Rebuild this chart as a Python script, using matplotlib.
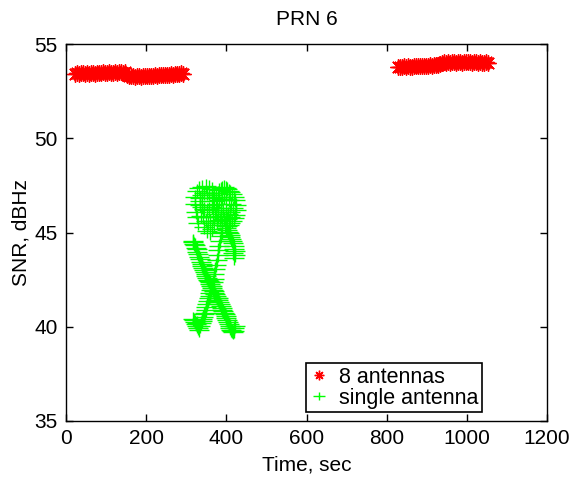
import numpy as np
import matplotlib.pyplot as plt
from matplotlib.path import Path

plt.rcParams['font.family'] = ['Liberation Sans', 'DejaVu Sans']
plt.rcParams['font.size'] = 15

# 8 antennas, first pass (t = 22..292 s, every 5 s)
t8a = np.arange(22, 293, 5)
snr8a = [53.40, 53.45, 53.42, 53.48, 53.44, 53.41, 53.46, 53.43, 53.47, 53.45,
         53.42, 53.48, 53.46, 53.44, 53.49, 53.47, 53.45, 53.50, 53.46, 53.48,
         53.51, 53.47, 53.49, 53.52, 53.48, 53.50,
         53.33, 53.30, 53.28, 53.31, 53.27, 53.30, 53.29, 53.26, 53.30, 53.28,
         53.31, 53.29, 53.32, 53.30, 53.33, 53.31, 53.34, 53.36, 53.33, 53.37,
         53.35, 53.38, 53.40, 53.37, 53.41, 53.39, 53.42, 53.44, 53.40]

# 8 antennas, second pass (t = 828..1053 s)
t8b = np.arange(828, 1054, 5)
snr8b = [53.78, 53.80, 53.77, 53.81, 53.79, 53.82, 53.80, 53.78, 53.83, 53.81,
         53.84, 53.82, 53.85, 53.83, 53.86, 53.84, 53.88, 53.86, 53.89, 53.87,
         53.90, 53.92,
         54.00, 54.02, 53.99, 54.03, 54.01, 54.04, 54.02, 54.00, 54.05, 54.03,
         54.01, 54.04, 54.02, 54.05, 54.03, 54.01, 54.04, 54.02, 54.00, 54.03,
         54.01, 53.99, 54.02, 54.00]

# single antenna: falling arm
tA = [316, 318, 320, 322, 324, 326, 328, 330, 332, 334, 336, 338, 340, 342,
      344, 346, 348, 350, 352, 354, 356, 358, 360, 362, 364, 366, 368, 370,
      372, 374, 376, 378, 380, 382, 384, 386, 388, 390, 392, 394, 396, 398,
      400, 402, 404, 406, 408, 410, 412, 414, 416, 418, 420, 422]
snrA = [44.55, 44.50, 44.40, 44.35, 44.20, 44.10, 43.95, 43.85, 43.70, 43.60,
        43.45, 43.35, 43.20, 43.10, 43.00, 42.90, 42.80, 42.70, 42.60, 42.50,
        42.45, 42.35, 42.25, 42.15, 42.05, 41.95, 41.90, 41.80, 41.75, 41.65,
        41.55, 41.50, 41.40, 41.30, 41.20, 41.10, 41.00, 40.90, 40.85, 40.75,
        40.65, 40.55, 40.45, 40.35, 40.25, 40.15, 40.05, 39.95, 39.85, 39.75,
        39.70, 39.80, 39.95, 40.05]

# rising arm
tB = [318, 320, 322, 324, 326, 328, 330, 332, 334, 336, 338, 340, 342, 344,
      346, 348, 350, 352, 354, 356, 358, 360, 362, 364, 366, 368, 370, 372,
      374, 376, 378, 380, 382, 384, 386, 388]
snrB = [40.40, 40.35, 40.25, 40.15, 40.05, 40.20, 39.95, 39.85, 40.05, 40.20,
        40.30, 40.40, 40.50, 40.65, 40.75, 40.90, 41.05, 41.20, 41.35, 41.50,
        41.65, 41.80, 41.95, 42.15, 42.35, 42.55, 42.80, 43.05, 43.30, 43.55,
        43.80, 44.05, 44.30, 44.55, 44.80, 45.05]

# right side tail
tC = [398, 400, 402, 404, 406, 408, 410, 412, 414, 416, 418, 420, 422, 421,
      419, 417]
snrC = [45.35, 45.25, 45.15, 45.05, 44.95, 44.85, 44.75, 44.65, 44.55, 44.45,
        44.30, 44.15, 44.00, 43.80, 43.65, 43.90]

# top left loop (with hole near 351 s, 46.65 dB)
tD = [368, 366.7, 363, 357.5, 351, 344.5, 339, 335.3, 334, 335.3, 339, 344.5,
      351, 357.5, 363, 366.7,
      322, 326, 332, 340, 348, 356, 364, 370, 322, 324, 326, 330,
      336, 342, 348, 354, 360, 366, 372, 344, 352, 358, 364, 370, 376]
snrD = [46.65, 46.82, 46.97, 47.07, 47.10, 47.07, 46.97, 46.82, 46.65, 46.48,
        46.33, 46.23, 46.20, 46.23, 46.33, 46.48,
        46.90, 47.20, 47.35, 47.40, 47.45, 47.40, 47.30, 47.10, 46.50, 46.10,
        45.80, 45.50, 45.90, 45.80, 45.60, 45.50, 45.60, 45.80, 46.00, 45.30,
        45.10, 45.00, 45.20, 45.40, 45.60]

# top right cluster
tE = [374, 378, 382, 386, 390, 394, 398, 402, 406, 410, 414, 418, 422, 424,
      423, 421, 418, 414, 410, 406, 402, 396, 390, 384, 378, 374, 376, 382,
      388, 394, 400, 406, 412, 416, 410, 404, 398, 392, 386, 380, 386, 394,
      402, 410]
snrE = [46.90, 47.10, 47.25, 47.30, 47.35, 47.40, 47.35, 47.30, 47.20, 47.15,
        47.05, 46.90, 46.70, 46.45, 46.20, 45.95, 45.75, 45.60, 45.50, 45.40,
        45.35, 45.40, 45.50, 45.65, 45.80, 46.10, 46.50, 46.70, 46.80, 46.90,
        46.80, 46.70, 46.50, 46.30, 46.10, 46.00, 46.10, 46.20, 46.30, 46.20,
        45.90, 45.70, 45.70, 45.80]

t1 = np.concatenate([tA, tB, tC, tD, tE])
snr1 = np.concatenate([snrA, snrB, snrC, snrD, snrE])
t8 = np.concatenate([t8a, t8b])
snr8 = np.concatenate([snr8a, snr8b])

# MATLAB-like plus, a bit wider than tall
plus = Path([(-1, 0), (1, 0), (0, -0.7), (0, 0.7)],
            [Path.MOVETO, Path.LINETO, Path.MOVETO, Path.LINETO])

fig = plt.figure(figsize=(5.72, 4.79), dpi=100)
ax = fig.add_axes([0.1154, 0.1211, 0.841, 0.787])

ax.plot(t8, snr8, linestyle='none', marker=(8, 2, 0), color='#ff0000',
        markersize=11.5, markeredgewidth=1, label='8 antennas')
ax.plot(t1, snr1, linestyle='none', marker=plus, color='#00ff00',
        markersize=14, markeredgewidth=1, label='single antenna')

ax.set_xlim(0, 1200)
ax.set_ylim(35, 55)
ax.set_xticks(range(0, 1201, 200))
ax.set_yticks(range(35, 56, 5))
ax.tick_params(direction='in', top=True, right=True, length=5, width=1, pad=6)
for s in ax.spines.values():
    s.set_linewidth(1)

ax.set_title('PRN 6', fontsize=15, pad=14)
ax.set_xlabel('Time, sec', labelpad=5)
ax.set_ylabel('SNR, dBHz', labelpad=3)

leg = ax.legend(loc='lower left', bbox_to_anchor=(0.499, 0.024), borderaxespad=0,
                fancybox=False, framealpha=1, edgecolor='black', fontsize=15.5,
                handlelength=0.9, handletextpad=0.5, labelspacing=0.0,
                borderpad=0.15, markerscale=0.6)
leg.get_frame().set_linewidth(1.2)

plt.savefig('out.png', dpi=100)
